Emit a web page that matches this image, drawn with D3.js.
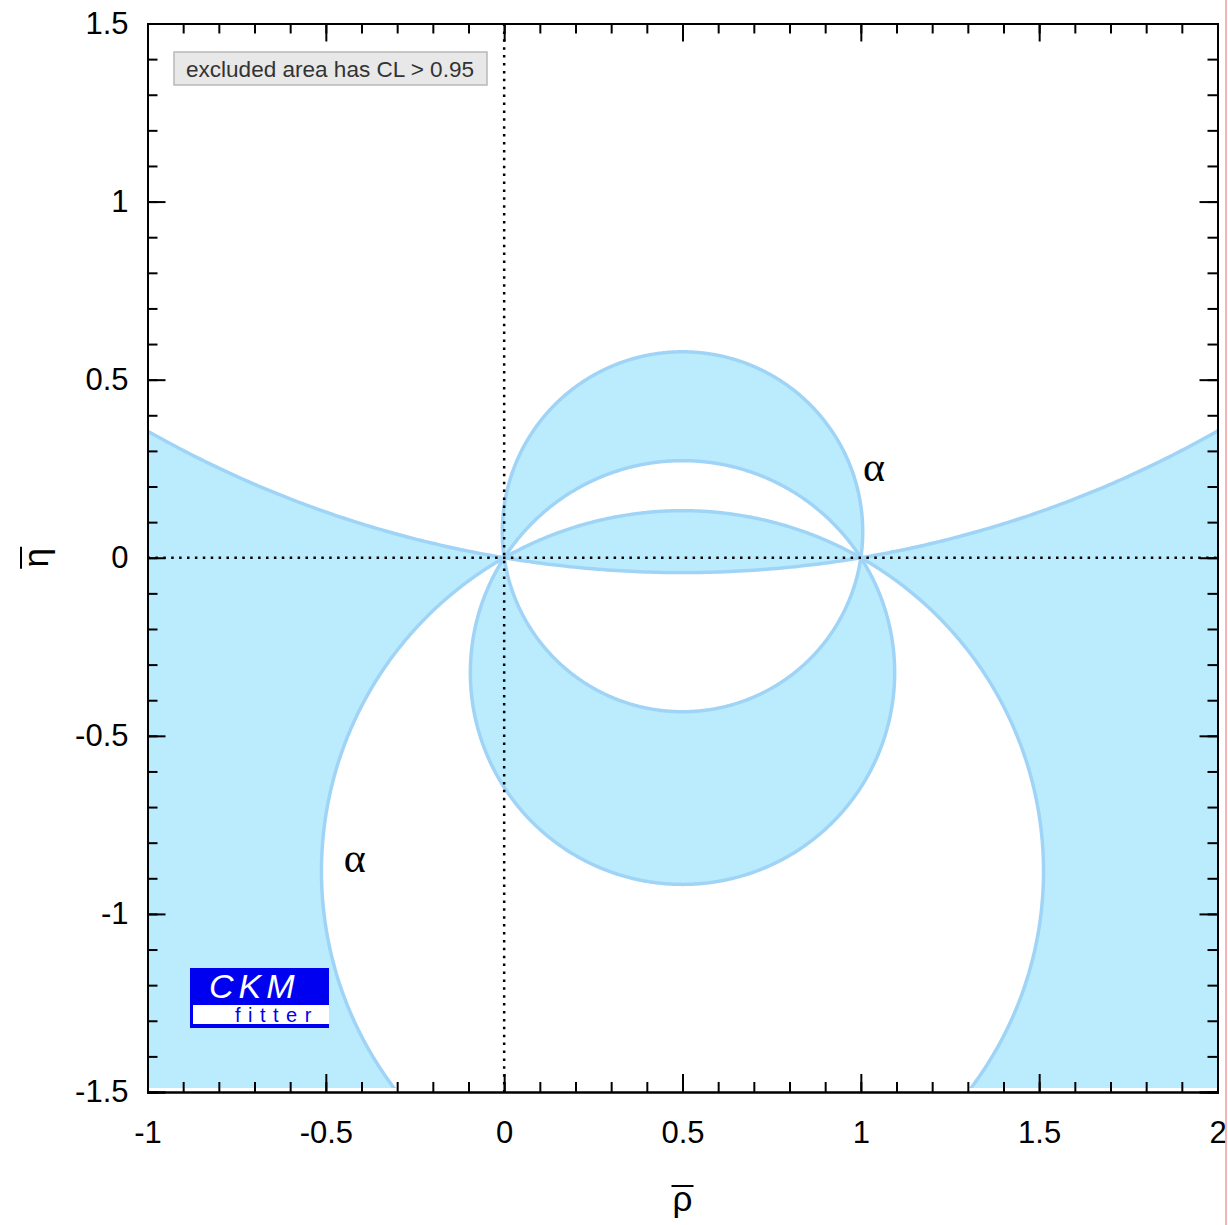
<!DOCTYPE html>
<html><head><meta charset="utf-8">
<script src="https://cdn.jsdelivr.net/npm/d3@7"></script>
<style>body{margin:0;background:#fff;overflow:hidden}</style>
</head><body>
<svg id="c" width="1228" height="1225"></svg>
<script>
// ---- data ----
const xDomain = [-1, 2];
const yDomain = [-1.5, 1.5];
const xTickValues = [-1, -0.5, 0, 0.5, 1, 1.5, 2];
const xTickLabels = ["-1", "-0.5", "0", "0.5", "1", "1.5", "2"];
const yTickValues = [-1.5, -1, -0.5, 0, 0.5, 1, 1.5];
const yTickLabels = ["-1.5", "-1", "-0.5", "0", "0.5", "1", "1.5"];
// allowed ranges of alpha (degrees, modulo 180) : boundaries of the excluded area
const alphaBands = [[81.7, 122.8], [150.4, 189.5]];
const alphaLabelRho = [1.037, -0.419];
const alphaLabelEta = [0.256, -0.843];
const legendText = "excluded area has CL > 0.95";

// ---- drawing ----
const svg = d3.select("#c");
const x = d3.scaleLinear().domain(xDomain).range([147.5, 1217.5]);
const y = d3.scaleLinear().domain(yDomain).range([1092, 23.5]);

const defs = svg.append("defs");
defs.append("clipPath").attr("id", "plotclip").append("rect")
  .attr("x", x(xDomain[0])).attr("y", y(yDomain[1]))
  .attr("width", x(xDomain[1]) - x(xDomain[0]))
  .attr("height", (y(yDomain[0]) - 4) - y(yDomain[1]));

function circleOf(alphaDeg) {
  const a = alphaDeg * Math.PI / 180;
  return {cx: 0.5, cy: 0.5 / Math.tan(a), r: Math.abs(0.5 / Math.sin(a))};
}
function alphaAt(rho, eta) {
  let a = (Math.atan2(eta, rho - 1) - Math.atan2(eta, rho)) * 180 / Math.PI;
  a = ((a % 180) + 180) % 180;
  return a;
}
function inBand(a, b) { return (a >= b[0] && a <= b[1]) || (a + 180 >= b[0] && a + 180 <= b[1]); }
const line = d3.line().x(d => x(d[0])).y(d => y(d[1]));
function circlePath(c) {
  const n = 1440;
  const pts = d3.range(n).map(i => {
    const t = i / n * 2 * Math.PI;
    return [c.cx + c.r * Math.cos(t), c.cy + c.r * Math.sin(t)];
  });
  return line(pts) + "Z";
}
const rectPath = line([[xDomain[0]-1, yDomain[0]-1],[xDomain[1]+1, yDomain[0]-1],[xDomain[1]+1, yDomain[1]+1],[xDomain[0]-1, yDomain[1]+1]]) + "Z";

const gFill = svg.append("g").attr("clip-path", "url(#plotclip)");
alphaBands.forEach(b => {
  const c1 = circleOf(b[0]), c2 = circleOf(b[1]);
  const circ = circlePath(c1) + circlePath(c2);
  // a point outside both circles: plot corner
  const outside = inBand(alphaAt(xDomain[0], yDomain[0]), b);
  gFill.append("path").attr("d", (outside ? rectPath : "") + circ)
    .attr("fill", "#bbecfe").attr("fill-rule", "evenodd").attr("stroke", "none");
});
alphaBands.forEach(b => {
  const circ = circlePath(circleOf(b[0])) + circlePath(circleOf(b[1]));
  gFill.append("path").attr("d", circ)
    .attr("fill", "none").attr("stroke", "#a0d4f6").attr("stroke-width", 3.5);
});

// dotted zero lines
svg.append("line").attr("x1", x(xDomain[0])).attr("x2", x(xDomain[1]))
  .attr("y1", y(0)).attr("y2", y(0))
  .attr("stroke", "#000").attr("stroke-width", 2.5).attr("stroke-dasharray", "2.5,5.4");
svg.append("line").attr("x1", x(0)).attr("x2", x(0))
  .attr("y1", y(yDomain[1])).attr("y2", y(yDomain[0]))
  .attr("stroke", "#000").attr("stroke-width", 2.5).attr("stroke-dasharray", "2.5,5.4");

// axes
const minorX = d3.range(-10, 21).map(v => v / 10);
const minorY = d3.range(-15, 16).map(v => v / 10);
const fontTick = "'Liberation Sans', Arial, Helvetica, sans-serif";
function styleAxis(g) {
  g.selectAll("path.domain").attr("stroke", "#000").attr("stroke-width", 2);
  g.selectAll(".tick line").attr("stroke", "#000").attr("stroke-width", 2);
  g.selectAll("text").attr("font-family", fontTick).attr("font-size", 31).attr("fill", "#000");
}
const B = y(yDomain[0]), T = y(yDomain[1]), L = x(xDomain[0]), R = x(xDomain[1]);
// bottom
svg.append("g").attr("transform", `translate(0,${B})`)
  .call(d3.axisBottom(x).tickValues(minorX).tickSize(-10).tickFormat("")).call(styleAxis);
svg.append("g").attr("transform", `translate(0,${B})`)
  .call(d3.axisBottom(x).tickValues(xTickValues).tickSize(-18).tickPadding(29)
    .tickFormat((d, i) => xTickLabels[i])).call(styleAxis);
// top
svg.append("g").attr("transform", `translate(0,${T})`)
  .call(d3.axisTop(x).tickValues(minorX).tickSize(-10).tickFormat("")).call(styleAxis);
svg.append("g").attr("transform", `translate(0,${T})`)
  .call(d3.axisTop(x).tickValues(xTickValues).tickSize(-18).tickFormat("")).call(styleAxis);
// left
svg.append("g").attr("transform", `translate(${L},0)`)
  .call(d3.axisLeft(y).tickValues(minorY).tickSize(-10).tickFormat("")).call(styleAxis);
svg.append("g").attr("transform", `translate(${L},0)`)
  .call(d3.axisLeft(y).tickValues(yTickValues).tickSize(-18).tickPadding(19)
    .tickFormat((d, i) => yTickLabels[i])).call(styleAxis);
// right
svg.append("g").attr("transform", `translate(${R},0)`)
  .call(d3.axisRight(y).tickValues(minorY).tickSize(-10).tickFormat("")).call(styleAxis);
svg.append("g").attr("transform", `translate(${R},0)`)
  .call(d3.axisRight(y).tickValues(yTickValues).tickSize(-18).tickFormat("")).call(styleAxis);

// axis titles
svg.append("text").attr("x", x(0.5)).attr("y", 1211).attr("text-anchor", "middle")
  .attr("font-family", fontTick).attr("font-size", 35).text("ρ");
svg.append("line").attr("x1", x(0.5) - 11).attr("x2", x(0.5) + 11).attr("y1", 1186).attr("y2", 1186)
  .attr("stroke", "#000").attr("stroke-width", 2);
const eg = svg.append("g").attr("transform", `translate(48,${y(0)}) rotate(-90)`);
eg.append("text").attr("x", 0).attr("y", 0).attr("text-anchor", "middle")
  .attr("font-family", fontTick).attr("font-size", 35).text("η");
eg.append("line").attr("x1", -11).attr("x2", 11).attr("y1", -27).attr("y2", -27)
  .attr("stroke", "#000").attr("stroke-width", 2);

// alpha labels
alphaLabelRho.forEach((r, i) => {
  svg.append("text").attr("x", x(r)).attr("y", y(alphaLabelEta[i]))
    .attr("text-anchor", "middle").attr("dominant-baseline", "central")
    .attr("font-family", "'Liberation Serif', 'Times New Roman', serif").attr("font-size", 42)
    .text("α");
});

// legend box
svg.append("rect").attr("x", 174).attr("y", 52).attr("width", 313).attr("height", 33)
  .attr("fill", "#e8e8e8").attr("stroke", "#b8b8b8").attr("stroke-width", 1.5);
svg.append("text").attr("x", 186).attr("y", 77).attr("font-family", fontTick)
  .attr("font-size", 22).attr("fill", "#333").attr("textLength", 288).attr("lengthAdjust", "spacingAndGlyphs")
  .text(legendText);

// CKMfitter logo
svg.append("rect").attr("x", 190).attr("y", 968).attr("width", 139).attr("height", 60).attr("fill", "#0000f0");
svg.append("rect").attr("x", 193).attr("y", 1005).attr("width", 136).attr("height", 19).attr("fill", "#fff");
svg.append("text").attr("x", 209).attr("y", 998).attr("font-family", fontTick).attr("font-style", "italic")
  .attr("font-size", 34).attr("fill", "#fff").attr("letter-spacing", 5).text("CKM");
svg.append("text").attr("x", 235).attr("y", 1022).attr("font-family", fontTick)
  .attr("font-size", 20).attr("fill", "#0000f0").attr("letter-spacing", 7.5).text("fitter");

// red border line at the right
svg.append("line").attr("x1", 1226).attr("x2", 1226).attr("y1", 0).attr("y2", 1225)
  .attr("stroke", "#f29a9a").attr("stroke-width", 1.5);
</script>
</body></html>
